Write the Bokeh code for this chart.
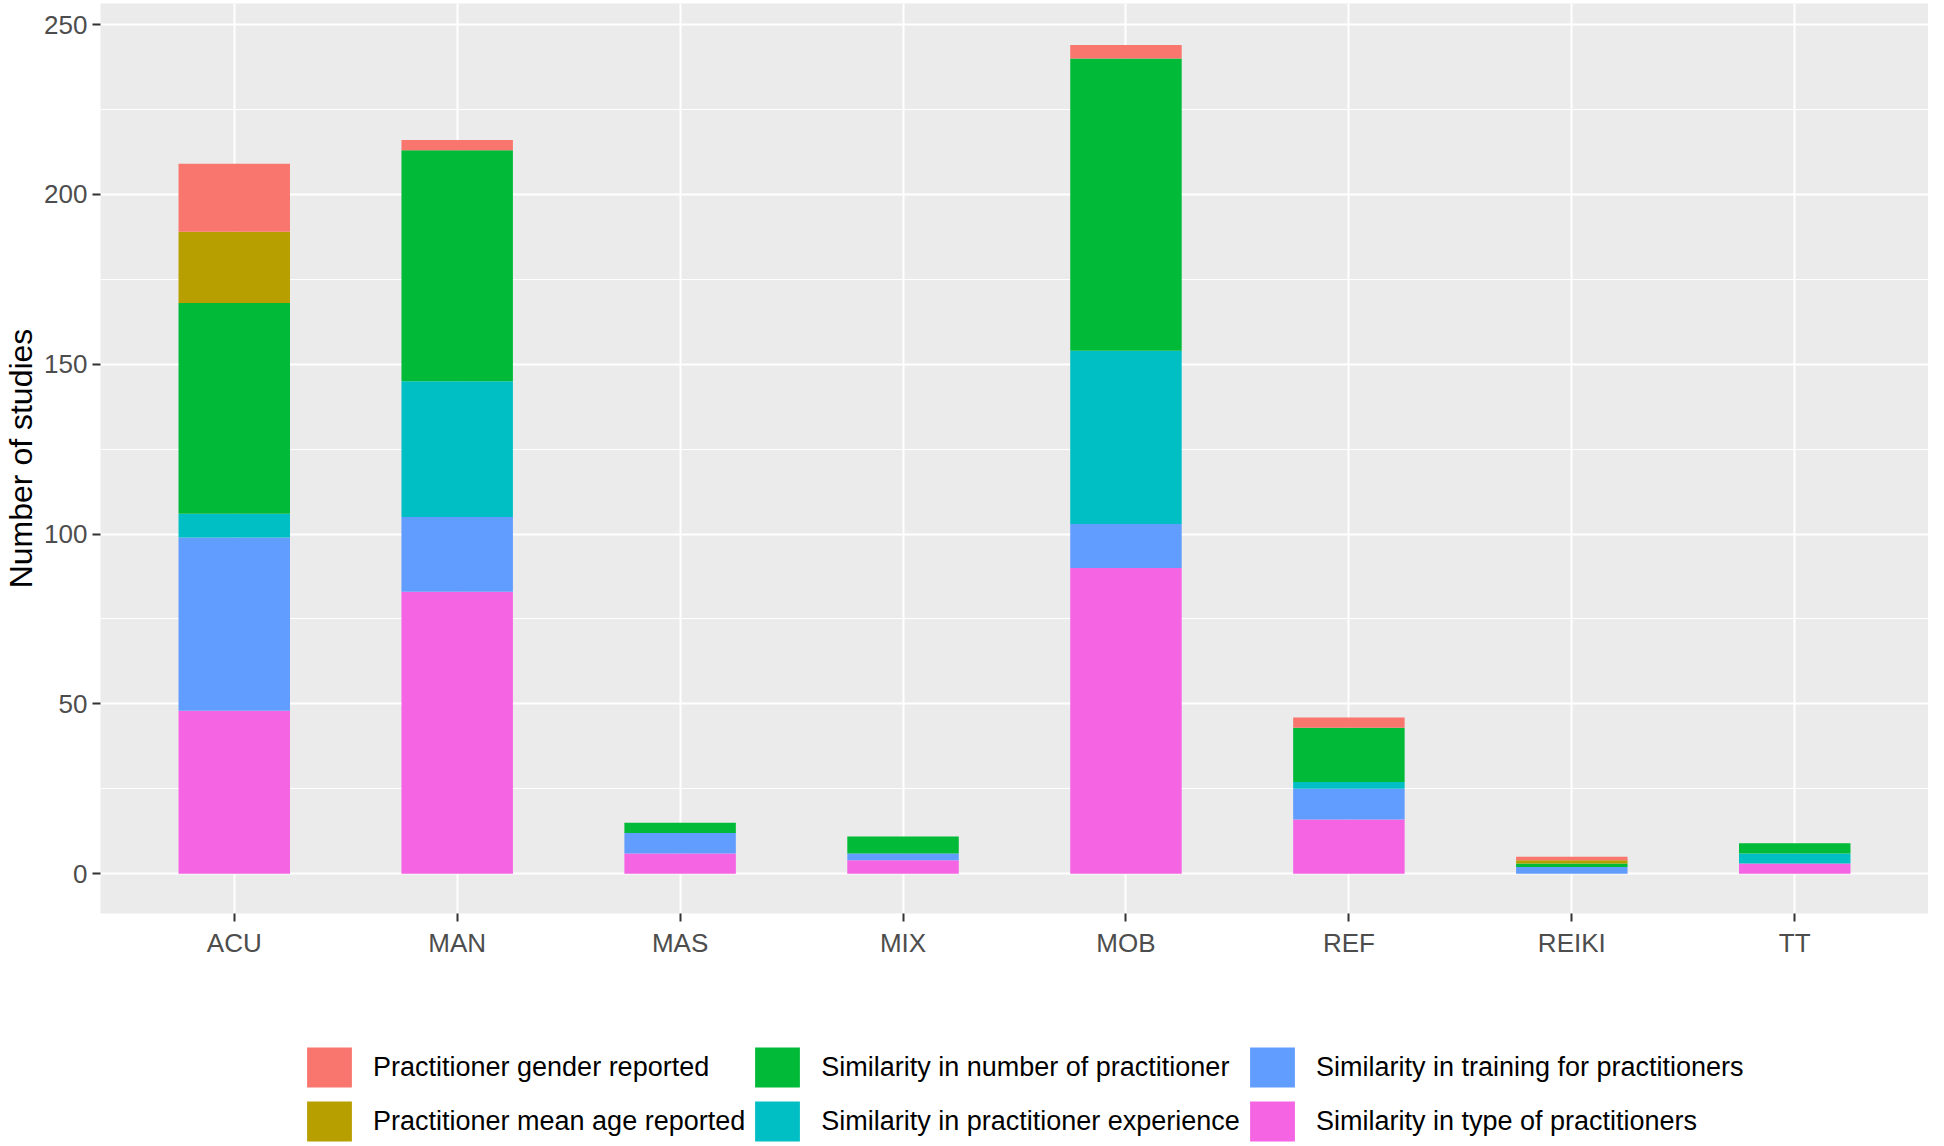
from bokeh.plotting import figure
from bokeh.layouts import column
from bokeh.models import (ColumnDataSource, Range1d, SingleIntervalTicker,
                          FixedTicker, Legend, LegendItem)
from bokeh.embed import file_html
from bokeh.resources import INLINE

categories = ["ACU", "MAN", "MAS", "MIX", "MOB", "REF", "REIKI", "TT"]

# stacked from bottom to top
sim_type = [48, 83, 6, 4, 90, 16, 0, 3]
sim_training = [51, 22, 6, 2, 13, 9, 2, 0]
sim_experience = [7, 40, 0, 0, 51, 2, 0, 3]
sim_number = [62, 68, 3, 5, 86, 16, 1, 3]
mean_age = [21, 0, 0, 0, 0, 0, 1, 0]
gender = [20, 3, 0, 0, 4, 3, 1, 0]

series_keys = ["type", "training", "experience", "number", "age", "gender"]
series_labels = {
    "gender": "Practitioner gender reported",
    "age": "Practitioner mean age reported",
    "number": "Similarity in number of practitioner",
    "experience": "Similarity in practitioner experience",
    "training": "Similarity in training for practitioners",
    "type": "Similarity in type of practitioners",
}
series_colors = {
    "gender": "#F8766D",
    "age": "#B79F00",
    "number": "#00BA38",
    "experience": "#00BFC4",
    "training": "#619CFF",
    "type": "#F564E3",
}
legend_order = ["gender", "age", "number", "experience", "training", "type"]

positions = list(range(1, len(categories) + 1))

source = ColumnDataSource(dict(
    pos=positions, cats=categories, type=sim_type, training=sim_training,
    experience=sim_experience, number=sim_number, age=mean_age, gender=gender,
))

FONT = "Liberation Sans"

# ---------------- main chart ----------------
p = figure(
    width=1928, height=960,
    x_range=Range1d(0.4, len(categories) + 0.6),
    y_range=Range1d(-11.7, 256.2),
    output_backend="svg", toolbar_location=None,
    min_border_left=0, min_border_right=0, min_border_top=3, min_border_bottom=0,
)
p.background_fill_color = "#EBEBEB"
p.border_fill_color = "white"
p.outline_line_color = None

p.vbar_stack(series_keys, x="pos", width=0.5, source=source,
             fill_color=[series_colors[k] for k in series_keys],
             line_color=None)

# x axis with category labels
p.xaxis.ticker = FixedTicker(ticks=positions)
p.xaxis.major_label_overrides = {pos: cat for pos, cat in zip(positions, categories)}

# grids
p.xgrid.ticker = FixedTicker(ticks=positions)
p.xgrid.grid_line_color = "white"
p.xgrid.grid_line_width = 2
p.ygrid.grid_line_color = "white"
p.ygrid.grid_line_width = 2
p.ygrid.minor_grid_line_color = "white"
p.ygrid.minor_grid_line_width = 1

# axes
p.yaxis.ticker = SingleIntervalTicker(interval=50, num_minor_ticks=2)
for ax in (p.xaxis[0], p.yaxis[0]):
    ax.axis_line_color = None
    ax.major_tick_line_color = "#333333"
    ax.major_tick_line_width = 2
    ax.major_tick_out = 8
    ax.major_tick_in = 0
    ax.minor_tick_line_color = None
    ax.major_label_text_font = FONT
    ax.major_label_text_font_size = "26px"
    ax.major_label_text_color = "#4D4D4D"
p.xaxis.major_label_standoff = 6
p.yaxis.major_label_standoff = 5
p.yaxis.axis_label = "Number of studies"
p.yaxis.axis_label_text_font = FONT
p.yaxis.axis_label_text_font_size = "32px"
p.yaxis.axis_label_text_font_style = "normal"
p.yaxis.axis_label_text_color = "black"
p.yaxis.axis_label_standoff = 2

# ---------------- legend strip ----------------
# the key renderers use the same data, but their bars lie outside this strip's view
lp = figure(
    width=1928, height=186,
    x_range=Range1d(-3, -2), y_range=Range1d(0, 1),
    x_axis_type=None, y_axis_type=None,
    output_backend="svg", toolbar_location=None,
    min_border_left=0, min_border_right=0, min_border_top=0, min_border_bottom=0,
)
lp.outline_line_color = None
lp.xgrid.visible = False
lp.ygrid.visible = False
lp.background_fill_color = "white"

items = []
for k in legend_order:
    r = lp.vbar(x="pos", top=k, width=0.5, source=source,
                fill_color=series_colors[k], line_color=None)
    items.append(LegendItem(label=series_labels[k], renderers=[r]))

leg = Legend(items=items, location=(201, 0), orientation="vertical", nrows=2,
             glyph_width=56, glyph_height=50, label_height=50, spacing=4,
             label_standoff=16, padding=0, margin=0,
             border_line_color=None, background_fill_alpha=0,
             label_text_font=FONT, label_text_font_size="27px",
             label_text_color="black")
lp.add_layout(leg, "center")

layout = column(p, lp, spacing=0)
open("out.html", "w").write(file_html(layout, INLINE))
